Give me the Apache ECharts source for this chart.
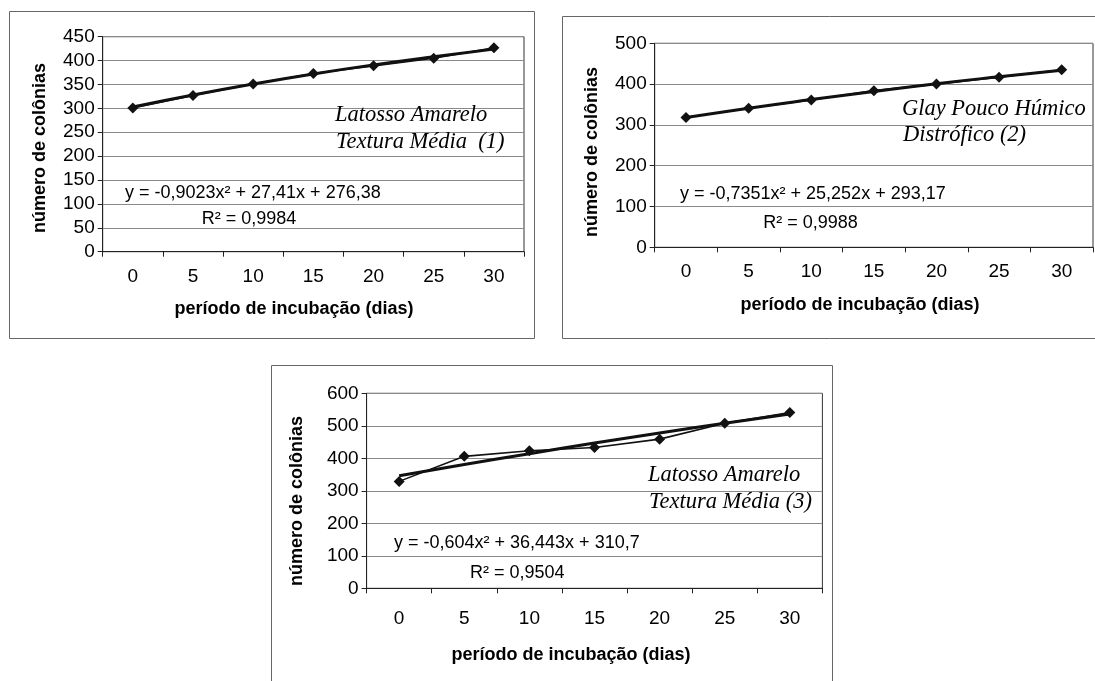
<!DOCTYPE html>
<html><head><meta charset="utf-8">
<script src="https://cdn.jsdelivr.net/npm/echarts@6/dist/echarts.min.js"></script>
<style>html,body{margin:0;padding:0;background:#fff}#c{width:1095px;height:681px}</style>
</head><body><div id="c"></div>
<script>
// ---- data ----
const days = ['0', '5', '10', '15', '20', '25', '30'];
const colonias1 = [301, 327, 351, 373, 389, 405, 427];
const tendencia1 = [303, 328, 351, 372, 391, 408, 424];
const colonias2 = [318, 341, 361, 384, 400, 417, 435];
const tendencia2 = [318, 341, 362, 382, 401, 418, 434];
const colonias3 = [329, 406, 423, 433, 459, 508, 541];
const tendencia3 = [346, 381, 414, 447, 478, 508, 536];
const yMax = [450, 500, 600];
const yStep = [50, 100, 100];
const soloTitulos = [
  ['Latosso Amarelo', 'Textura Média  (1)'],
  ['Glay Pouco Húmico', 'Distrófico (2)'],
  ['Latosso Amarelo', 'Textura Média (3)']
];
const equacoes = [
  'y = -0,9023x² + 27,41x + 276,38',
  'y = -0,7351x² + 25,252x + 293,17',
  'y = -0,604x² + 36,443x + 310,7'
];
const r2 = ['R² = 0,9984', 'R² = 0,9988', 'R² = 0,9504'];
const xTitulo = 'período de incubação (dias)';
const yTitulo = 'número de colônias';

// ---- layout ----
const grids = [
  {left: 102.7, top: 36.7, width: 421.3, height: 215},
  {left: 654.7, top: 43.3, width: 438.3, height: 204},
  {left: 366.6, top: 393.3, width: 455.8, height: 195}
];
const boxes = [
  {x: 9.5, y: 11.5, width: 525, height: 327},
  {x: 562.5, y: 16.5, width: 545, height: 322},
  {x: 271.5, y: 365.5, width: 561, height: 330}
];
const xTitlePos = [[294, 309], [860, 305], [571, 655]];
const yTitlePos = [[40, 148], [592, 152], [297, 501]];
const soloPos = [[335, 127, 154], [902, 121, 147], [648, 487, 514]];
const eqPos = [[125, 198.3], [680, 199], [394, 548.3]];
const r2Pos = [[201.7, 224.3], [763.3, 228.3], [470, 578.3]];
const tickMargin = [16, 15, 21];

const series1 = [colonias1, colonias2, colonias3];
const trend = [tendencia1, tendencia2, tendencia3];

const chart = echarts.init(document.getElementById('c'), null, {renderer: 'canvas'});
const SANS = '"Liberation Sans", Arial, sans-serif';
const SERIF = '"Liberation Serif", "Times New Roman", serif';

const option = {
  animation: false,
  backgroundColor: '#fff',
  grid: grids.map(g => Object.assign({show: true, borderColor: '#333', borderWidth: 1, backgroundColor: 'transparent'}, g)),
  xAxis: grids.map((g, i) => ({
    type: 'category', gridIndex: i, data: days, boundaryGap: true,
    axisLine: {lineStyle: {color: '#222', width: 1}},
    axisTick: {show: true, length: 5, lineStyle: {color: '#222'}},
    axisLabel: {color: '#000', fontSize: 19, fontFamily: SANS, margin: tickMargin[i]},
    splitLine: {show: false}
  })),
  yAxis: grids.map((g, i) => ({
    type: 'value', gridIndex: i, min: 0, max: yMax[i], interval: yStep[i],
    axisLine: {show: true, lineStyle: {color: '#222', width: 1}},
    axisTick: {show: true, length: 5, lineStyle: {color: '#222'}},
    axisLabel: {color: '#000', fontSize: 19, fontFamily: SANS, margin: 8},
    splitLine: {show: true, lineStyle: {color: '#8a8a8a', width: 1}}
  })),
  series: [],
  graphic: []
};

for (let i = 0; i < 3; i++) {
  option.series.push({
    type: 'line', xAxisIndex: i, yAxisIndex: i, data: trend[i], smooth: true,
    symbol: 'none', lineStyle: {color: '#111', width: 3}, z: 2
  });
  option.series.push({
    type: 'line', xAxisIndex: i, yAxisIndex: i, data: series1[i],
    symbol: 'diamond', symbolSize: 11, itemStyle: {color: '#111'},
    lineStyle: {color: '#111', width: 1.6}, z: 3
  });
  const b = boxes[i];
  option.graphic.push({type: 'rect', shape: b, style: {fill: 'none', stroke: '#666', lineWidth: 1}, z: 0, silent: true});
  option.graphic.push({type: 'text', x: xTitlePos[i][0], y: xTitlePos[i][1],
    style: {text: xTitulo, font: 'bold 18px ' + SANS, fill: '#000', textAlign: 'center', textVerticalAlign: 'middle', align: 'center', verticalAlign: 'middle'}});
  option.graphic.push({type: 'text', x: yTitlePos[i][0], y: yTitlePos[i][1], rotation: Math.PI / 2,
    style: {text: yTitulo, font: 'bold 18px ' + SANS, fill: '#000', textAlign: 'center', textVerticalAlign: 'middle', align: 'center', verticalAlign: 'middle'}});
  const sp = soloPos[i];
  option.graphic.push({type: 'text', x: sp[0], y: sp[1], z: 10,
    style: {text: soloTitulos[i][0], font: 'italic 22.5px ' + SERIF, fill: '#000', textAlign: 'left', textVerticalAlign: 'bottom', align: 'left', verticalAlign: 'bottom'}});
  option.graphic.push({type: 'text', x: sp[0] + 1, y: sp[2], z: 10,
    style: {text: soloTitulos[i][1], font: 'italic 22.5px ' + SERIF, fill: '#000', textAlign: 'left', textVerticalAlign: 'bottom', align: 'left', verticalAlign: 'bottom'}});
  option.graphic.push({type: 'text', x: eqPos[i][0], y: eqPos[i][1] + 4, z: 10,
    style: {text: equacoes[i], font: '18px ' + SANS, fill: '#000', textAlign: 'left', textVerticalAlign: 'bottom', align: 'left', verticalAlign: 'bottom'}});
  option.graphic.push({type: 'text', x: r2Pos[i][0], y: r2Pos[i][1] + 4, z: 10,
    style: {text: r2[i], font: '18px ' + SANS, fill: '#000', textAlign: 'left', textVerticalAlign: 'bottom', align: 'left', verticalAlign: 'bottom'}});
}

chart.setOption(option);
</script>
</body></html>
